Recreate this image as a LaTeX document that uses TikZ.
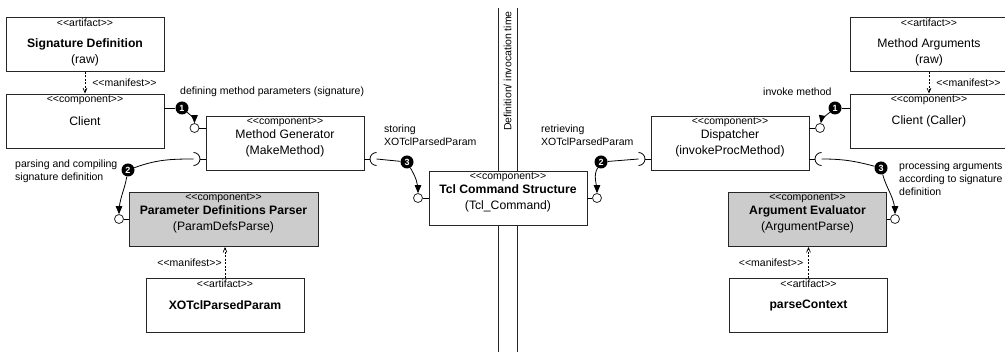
\documentclass[tikz,border=0pt]{standalone}
\usepackage{fontspec}
\setmainfont{Liberation Sans}
\usetikzlibrary{shapes,arrows}

\newcommand{\ster}[1]{<{}<#1>{}>}

\begin{document}
\begin{tikzpicture}[x=1pt,y=-1pt,
  box/.style={draw=black!85, line width=0.9pt, fill=white, minimum width=158pt,
    minimum height=54pt, inner sep=0pt, align=center, font=\fontsize{12.2}{16}\selectfont},
  stereo/.style={anchor=north, inner sep=1.8pt, font=\fontsize{10.5}{12}\selectfont},
  lbl/.style={align=left, inner sep=0pt, font=\fontsize{10.5}{12.8}\selectfont},
  bullet/.style={circle, fill=black, text=white, inner sep=0pt, minimum size=13pt,
    font=\fontsize{9}{9}\selectfont\bfseries},
  lolli/.style={circle, draw=black!85, fill=white, line width=0.8pt, minimum size=9pt, inner sep=0pt},
  conn/.style={line width=0.8pt},
  flow/.style={conn, -triangle 45},
  manifest/.style={line width=0.7pt, dash pattern=on 2pt off 1.5pt, -angle 45}]
\useasboundingbox (0,0) rectangle (1005,352);

% time line between definition and invocation
\draw[line width=0.9pt, black!85] (498,8) -- (498,352);
\draw[line width=0.9pt, black!85] (517,8) -- (517,352);
\node[lbl, rotate=90, anchor=east] (timelbl) at (507.5,11) {Definition/ invocation time};

% definition side
\node[box, text height=40pt, label={[stereo]north:\ster{artifact}}] (sigdef) at (85,44.5) {\textbf{Signature Definition}\\(raw)};
\node[box, label={[stereo]north:\ster{component}}] (client) at (85,121) {Client};
\node[box, label={[stereo]north:\ster{component}}] (mg) at (285,143) {Method Generator\\(MakeMethod)};
\node[box, minimum width=189pt, fill=black!20, label={[stereo]north:\ster{component}}] (pd) at (223.5,219.5) {\textbf{Parameter Definitions Parser}\\(ParamDefsParse)};
\node[box, label={[stereo]north:\ster{artifact}}] (xp) at (225,305.5) {\textbf{XOTclParsedParam}};
\node[box, label={[stereo]north:\ster{component}}] (tcl) at (508,198) {\textbf{Tcl Command Structure}\\(Tcl\_Command)};

% invocation side
\node[box, text height=40pt, label={[stereo]north:\ster{artifact}}] (margs) at (929,44.5) {Method Arguments\\(raw)};
\node[box, label={[stereo]north:\ster{component}}] (caller) at (929,121) {Client (Caller)};
\node[box, label={[stereo]north:\ster{component}}] (disp) at (730,143) {Dispatcher\\(invokeProcMethod)};
\node[box, fill=black!20, label={[stereo]north:\ster{component}}] (ae) at (807.5,219.5) {\textbf{Argument Evaluator}\\(ArgumentParse)};
\node[box, label={[stereo]north:\ster{artifact}}] (pc) at (808.5,305.5) {\textbf{parseContext}};

% provided interfaces
\node[lolli] (mgin) at (194.5,128) {};
\node[lolli] (pdin) at (119,219) {};
\node[lolli] (tclin) at (418,198) {};
\node[lolli] (tclout) at (597,198) {};
\node[lolli] (dispin) at (820,128) {};
\node[lolli] (aein) at (895,219) {};
\foreach \l/\e in {mgin/mg.west, pdin/pd.west, tclin/tcl.west, tclout/tcl.east, dispin/disp.east, aein/ae.east}
  \draw[conn] (\l) -- (\l -| \e);

% required interfaces
\coordinate (mgreq) at (193.5,159);
\coordinate (mgout) at (376.5,159);
\coordinate (dispreq) at (638.5,159);
\coordinate (dispout) at (821.5,159);
\foreach \s/\e/\dir in {mgreq/mg.west/1, mgout/mg.east/-1, dispreq/disp.west/1, dispout/disp.east/-1} {
  \draw[conn] ([xshift=\dir*6.5pt]\s) -- (\s -| \e);
  \draw[conn] ([yshift=6.5pt]\s) arc[start angle=90, delta angle=\dir*-180, radius=6.5pt];
}

% steps
\node[bullet] (b1l) at (182,108) {1};
\node[bullet] (b2l) at (128,170) {2};
\node[bullet] (b3l) at (407,162) {3};
\node[bullet] (b2r) at (601,162) {2};
\node[bullet] (b1r) at (835,108) {1};
\node[bullet] (b3r) at (881,168) {3};

\draw[conn] (client.east |- b1l) -- (b1l);
\draw[flow] (b1l) to[out=-40,in=90] (mgin);
\draw[conn] (mgreq) to[out=180,in=20] (b2l);
\draw[flow] (b2l) to[out=-100,in=90] (pdin);
\draw[conn] (mgout) -- (b3l);
\draw[flow] (b3l) to[out=-60,in=90] (tclin);
\draw[conn] (dispreq) -- (b2r);
\draw[flow] (b2r) to[out=-120,in=90] (tclout);
\draw[conn] (b1r) -- (caller.west |- b1r);
\draw[flow] (b1r) to[out=-140,in=80] (dispin);
\draw[conn] (dispout) to[out=0,in=165] (b3r);
\draw[flow] (b3r) to[out=-75,in=90] (aein);

\node[lbl, anchor=west] (deflbl) at (180,92) {defining method parameters (signature)};
\node[lbl, anchor=north west] (parselbl) at (15,160) {parsing and compiling\\signature definition};
\node[lbl, anchor=north west] (storelbl) at (384,125) {storing\\XOTclParsedParam};
\node[lbl, anchor=north west] (retrlbl) at (541,125) {retrieving\\XOTclParsedParam};
\node[lbl, anchor=west] (invlbl) at (763,92) {invoke method};
\node[lbl, anchor=north west] (proclbl) at (899,162) {processing arguments\\according to signature\\definition};

% manifestations
\draw[manifest] (sigdef) -- node[lbl, right=7pt] (man1) {\ster{manifest}} (client);
\draw[manifest] (xp.north) -- node[lbl, left=3pt] (man2) {\ster{manifest}} (xp.north |- pd.south);
\draw[manifest] (margs) -- node[lbl, right=7pt] (man3) {\ster{manifest}} (caller);
\draw[manifest] (pc.north) -- node[lbl, left=5pt] (man4) {\ster{manifest}} (pc.north |- ae.south);
\end{tikzpicture}
\end{document}
